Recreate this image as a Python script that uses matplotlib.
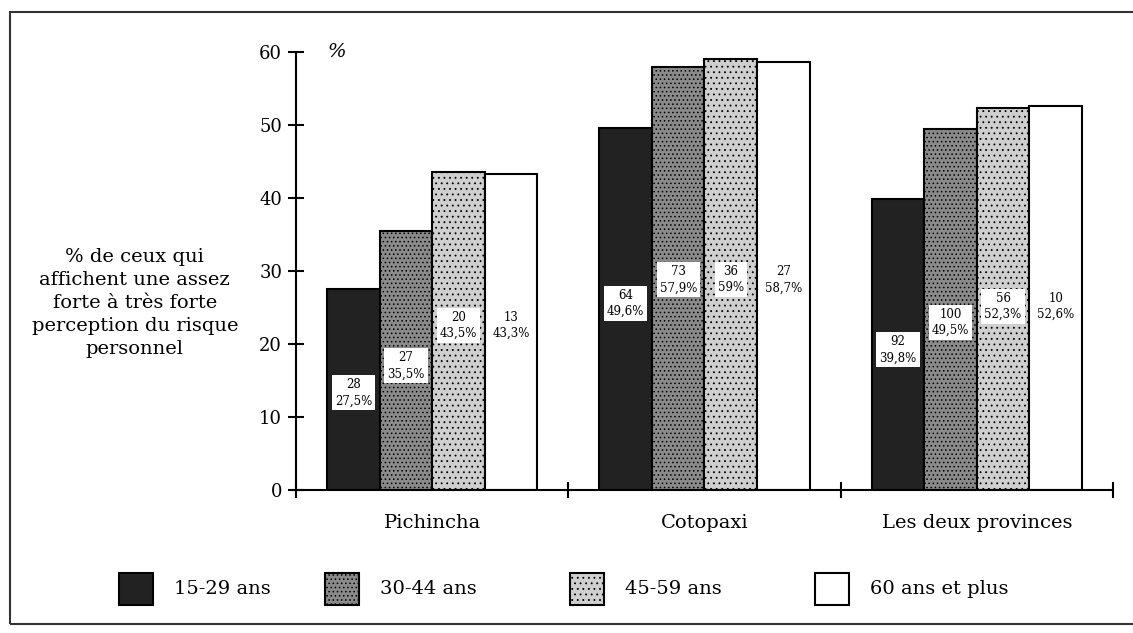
import numpy as np
import matplotlib.pyplot as plt
from matplotlib.patches import Rectangle

# données
provinces = ['Pichincha', 'Cotopaxi', 'Les deux provinces']
age_groups = ['15-29 ans', '30-44 ans', '45-59 ans', '60 ans et plus']
pct = [
    [27.5, 49.6, 39.8],   # 15-29 ans
    [35.5, 57.9, 49.5],   # 30-44 ans
    [43.5, 59.0, 52.3],   # 45-59 ans
    [43.3, 58.7, 52.6],   # 60 ans et plus
]
effectifs = [
    [28, 64, 92],
    [27, 73, 100],
    [20, 36, 56],
    [13, 27, 10],
]
pct_labels = [
    ['27,5%', '49,6%', '39,8%'],
    ['35,5%', '57,9%', '49,5%'],
    ['43,5%', '59%', '52,3%'],
    ['43,3%', '58,7%', '52,6%'],
]
# hauteur des étiquettes dans les barres (mise en page)
label_y = [
    [13.3, 25.6, 19.2],
    [17.0, 28.8, 23.0],
    [22.5, 28.8, 25.2],
    [22.5, 28.8, 25.2],
]

colors = ['#222222', '#8a8a8a', '#cfcfcf', 'white']
hatches = [None, '....', '...', None]

plt.rcParams['font.family'] = ['DejaVu Serif']
plt.rcParams['hatch.linewidth'] = 0.6

fig = plt.figure(figsize=(11.33, 6.33), dpi=100)
ax = fig.add_axes([0.2613, 0.2259, 0.721, 0.6919])

width = 0.193
x = np.arange(len(provinces)) + 0.5
for i in range(len(age_groups)):
    xpos = x + (i - 1.5) * width
    ax.bar(xpos, pct[i], width=width, color=colors[i], edgecolor='black',
           linewidth=1.5, hatch=hatches[i], zorder=2)
    for j in range(len(provinces)):
        box = None if i == 3 else dict(boxstyle='square,pad=0.25', fc='white', ec='none')
        ax.text(xpos[j], label_y[i][j], f'{effectifs[i][j]}\n{pct_labels[i][j]}',
                ha='center', va='center', fontsize=8.5, linespacing=1.3,
                bbox=box, zorder=3)

ax.set_xlim(0, 3)
ax.set_ylim(0, 60)
ax.set_yticks(range(0, 61, 10))
ax.set_xticks([0, 1, 2, 3])
ax.set_xticklabels([])
ax.tick_params(axis='both', direction='inout', length=12, width=1.5, labelsize=13)
ax.tick_params(axis='y', pad=4)
for s in ['top', 'right']:
    ax.spines[s].set_visible(False)
for s in ['left', 'bottom']:
    ax.spines[s].set_linewidth(1.5)

for j, name in enumerate(provinces):
    ax.text(x[j], -4.5, name, ha='center', va='center', fontsize=14)

ax.text(0.05, 1.0, '%', transform=ax.transAxes, ha='center', va='center',
        fontsize=14, style='italic')

fig.text(0.119, 0.521, '% de ceux qui\naffichent une assez\nforte à très forte\nperception du risque\npersonnel',
         ha='center', va='center', fontsize=14, linespacing=1.35)

# légende
leg_x = [119, 325, 570, 815]
for i, lab in enumerate(age_groups):
    fig.patches.append(Rectangle((leg_x[i] / 1133, 1 - 605 / 633), 34 / 1133, 32 / 633,
                                 transform=fig.transFigure, facecolor=colors[i],
                                 edgecolor='black', linewidth=1.5, hatch=hatches[i]))
    fig.text((leg_x[i] + 55) / 1133, 1 - 589 / 633, lab, ha='left', va='center', fontsize=14)

# cadre
fig.patches.append(Rectangle((10 / 1133, 1 - 624 / 633), 1.2, 612 / 633,
                             transform=fig.transFigure, fill=False,
                             edgecolor='#333333', linewidth=1.5))

fig.savefig('out.png', dpi=100)
